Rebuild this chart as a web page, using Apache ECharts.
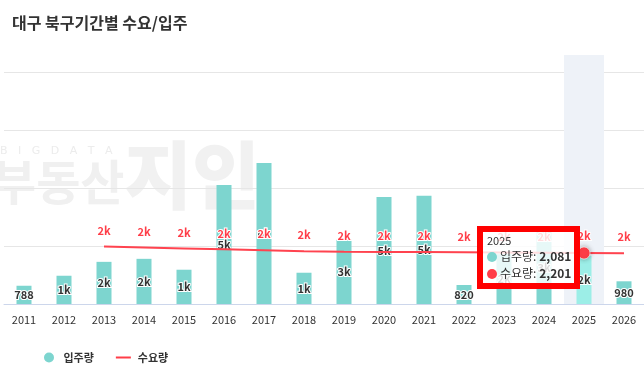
<!DOCTYPE html>
<html>
<head>
<meta charset="utf-8">
<script src="https://cdn.jsdelivr.net/npm/echarts@6/dist/echarts.min.js"></script>
<style>
html,body{margin:0;padding:0;background:#fff;}
#chart{width:644px;height:365px;}
</style>
</head>
<body>
<div id="chart"></div>
<script>
const years = ['2011','2012','2013','2014','2015','2016','2017','2018','2019','2020','2021','2022','2023','2024','2025','2026'];
const supply = [788, 1220, 1820, 1950, 1480, 5140, 6090, 1350, 2770, 4620, 4670, 820, 2150, 3130, 2081, 980];
const demand = [null, null, 2480, 2440, 2400, 2360, 2320, 2280, 2260, 2250, 2240, 2230, 2220, 2210, 2201, 2190];
const seriesNames = ['입주량', '수요량'];
const FONT = "'Noto Sans CJK KR', 'Noto Sans', sans-serif";
const TEAL = '#7dd5cf';
const RED = '#ff3d48';

function kfmt(v) {
  if (v == null) return '';
  if (v < 1000) return String(v);
  return Math.round(v / 1000) + 'k';
}
function num(v) { return v.toLocaleString('en-US'); }

const chart = echarts.init(document.getElementById('chart'), null, {renderer: 'canvas'});
chart.setOption({
  animation: false,
  backgroundColor: '#fff',
  textStyle: {fontFamily: FONT},
  title: {
    text: '대구 북구기간별 수요/입주',
    left: 7, top: 10,
    textStyle: {fontFamily: FONT, fontSize: 16, fontWeight: 'bold', color: '#333'}
  },
  graphic: [
    {type: 'text', left: 0, top: 146, z: 0, silent: true,
     style: {text: 'B   I   G   D   A   T   A', fontFamily: 'DejaVu Sans', fontSize: 11, fill: '#ececec'}},
    {type: 'text', left: -8, top: 158, z: 0, silent: true,
     style: {text: '부동산', fontFamily: FONT, fontSize: 48, fontWeight: 'bold', fill: '#f0f0f0'}},
    {type: 'text', left: 124, top: 138, z: 0, silent: true,
     style: {text: '지인', fontFamily: FONT, fontSize: 74, fontWeight: 900, fill: '#f1f1f1'}}
  ],
  legend: {
    left: 39, top: 347,
    itemWidth: 15, itemHeight: 10, itemGap: 22,
    textStyle: {fontFamily: FONT, fontSize: 11, fontWeight: 'bold', color: '#333', padding: [0, 0, 0, 2]},
    data: [
      {name: seriesNames[0], icon: 'circle', itemStyle: {color: TEAL}},
      {name: seriesNames[1], icon: 'path://M0,0h15v2h-15z', itemStyle: {color: RED, opacity: 1}}
    ]
  },
  tooltip: {
    trigger: 'axis',
    alwaysShowContent: true,
    axisPointer: {type: 'shadow', z: 0, shadowStyle: {color: '#eef2f8', opacity: 1}},
    backgroundColor: 'rgba(255,255,255,0.82)',
    borderColor: '#ff0000',
    borderWidth: 6,
    borderRadius: 0,
    padding: [2, 3, 2, 4],
    transitionDuration: 0,
    position: function () { return [477, 226]; },
    extraCssText: 'box-shadow:none;',
    formatter: function (params) {
      let html = '<div style="font-family:' + FONT.replace(/'/g, '') + ';font-size:12px;color:#333;">';
      html += '<div style="font-size:11px;line-height:13px;">' + params[0].axisValue + '</div>';
      params.forEach(function (p) {
        const c = p.seriesIndex === 0 ? TEAL : RED;
        html += '<div style="white-space:nowrap;line-height:17px;"><span style="display:inline-block;width:10px;height:10px;border-radius:5px;background:' + c + ';margin-right:3px;vertical-align:-1px;"></span>' +
          p.seriesName + ': <b>' + num(p.value) + '</b></div>';
      });
      return html + '</div>';
    }
  },
  grid: {left: 4, right: 0, top: 55, bottom: 61, containLabel: false},
  xAxis: {
    type: 'category',
    data: years,
    axisTick: {show: false},
    axisLine: {lineStyle: {color: '#ccd6eb', width: 1}},
    axisLabel: {color: '#333', fontSize: 11, margin: 10, fontFamily: FONT}
  },
  yAxis: {
    type: 'value',
    min: 0, max: 10750, interval: 2500,
    axisLabel: {show: false},
    axisLine: {show: false},
    axisTick: {show: false},
    splitLine: {show: true, showMaxLine: false, lineStyle: {color: '#e6e6e6', width: 1}}
  },
  series: [
    {
      name: seriesNames[0],
      type: 'bar',
      data: supply,
      barWidth: 15,
      itemStyle: {color: TEAL},
      emphasis: {itemStyle: {color: '#9ceee7'}, label: {color: '#333'}},
      label: {
        show: true, position: 'inside',
        formatter: function (p) { return kfmt(p.value); },
        color: '#333', fontSize: 11, fontWeight: 'bold', fontFamily: FONT,
        textBorderColor: '#fff', textBorderWidth: 2
      }
    },
    {
      name: seriesNames[1],
      type: 'line',
      data: demand,
      showSymbol: true,
      symbol: 'circle',
      symbolSize: 11,
      itemStyle: {color: 'rgba(255,61,72,0)'},
      lineStyle: {color: RED, width: 2},
      emphasis: {scale: 1.1, itemStyle: {color: RED, shadowBlur: 5, shadowColor: 'rgba(0,0,0,0.35)', borderColor: 'rgba(255,255,255,0.6)', borderWidth: 1}, label: {color: RED}},
      label: {
        show: true, position: 'top', distance: 5,
        formatter: function (p) { return kfmt(p.value); },
        color: RED, fontSize: 11, fontWeight: 'bold', fontFamily: FONT,
        textBorderColor: '#fff', textBorderWidth: 2
      }
    }
  ]
});
chart.dispatchAction({type: 'showTip', seriesIndex: 0, dataIndex: 14});
</script>
</body>
</html>
